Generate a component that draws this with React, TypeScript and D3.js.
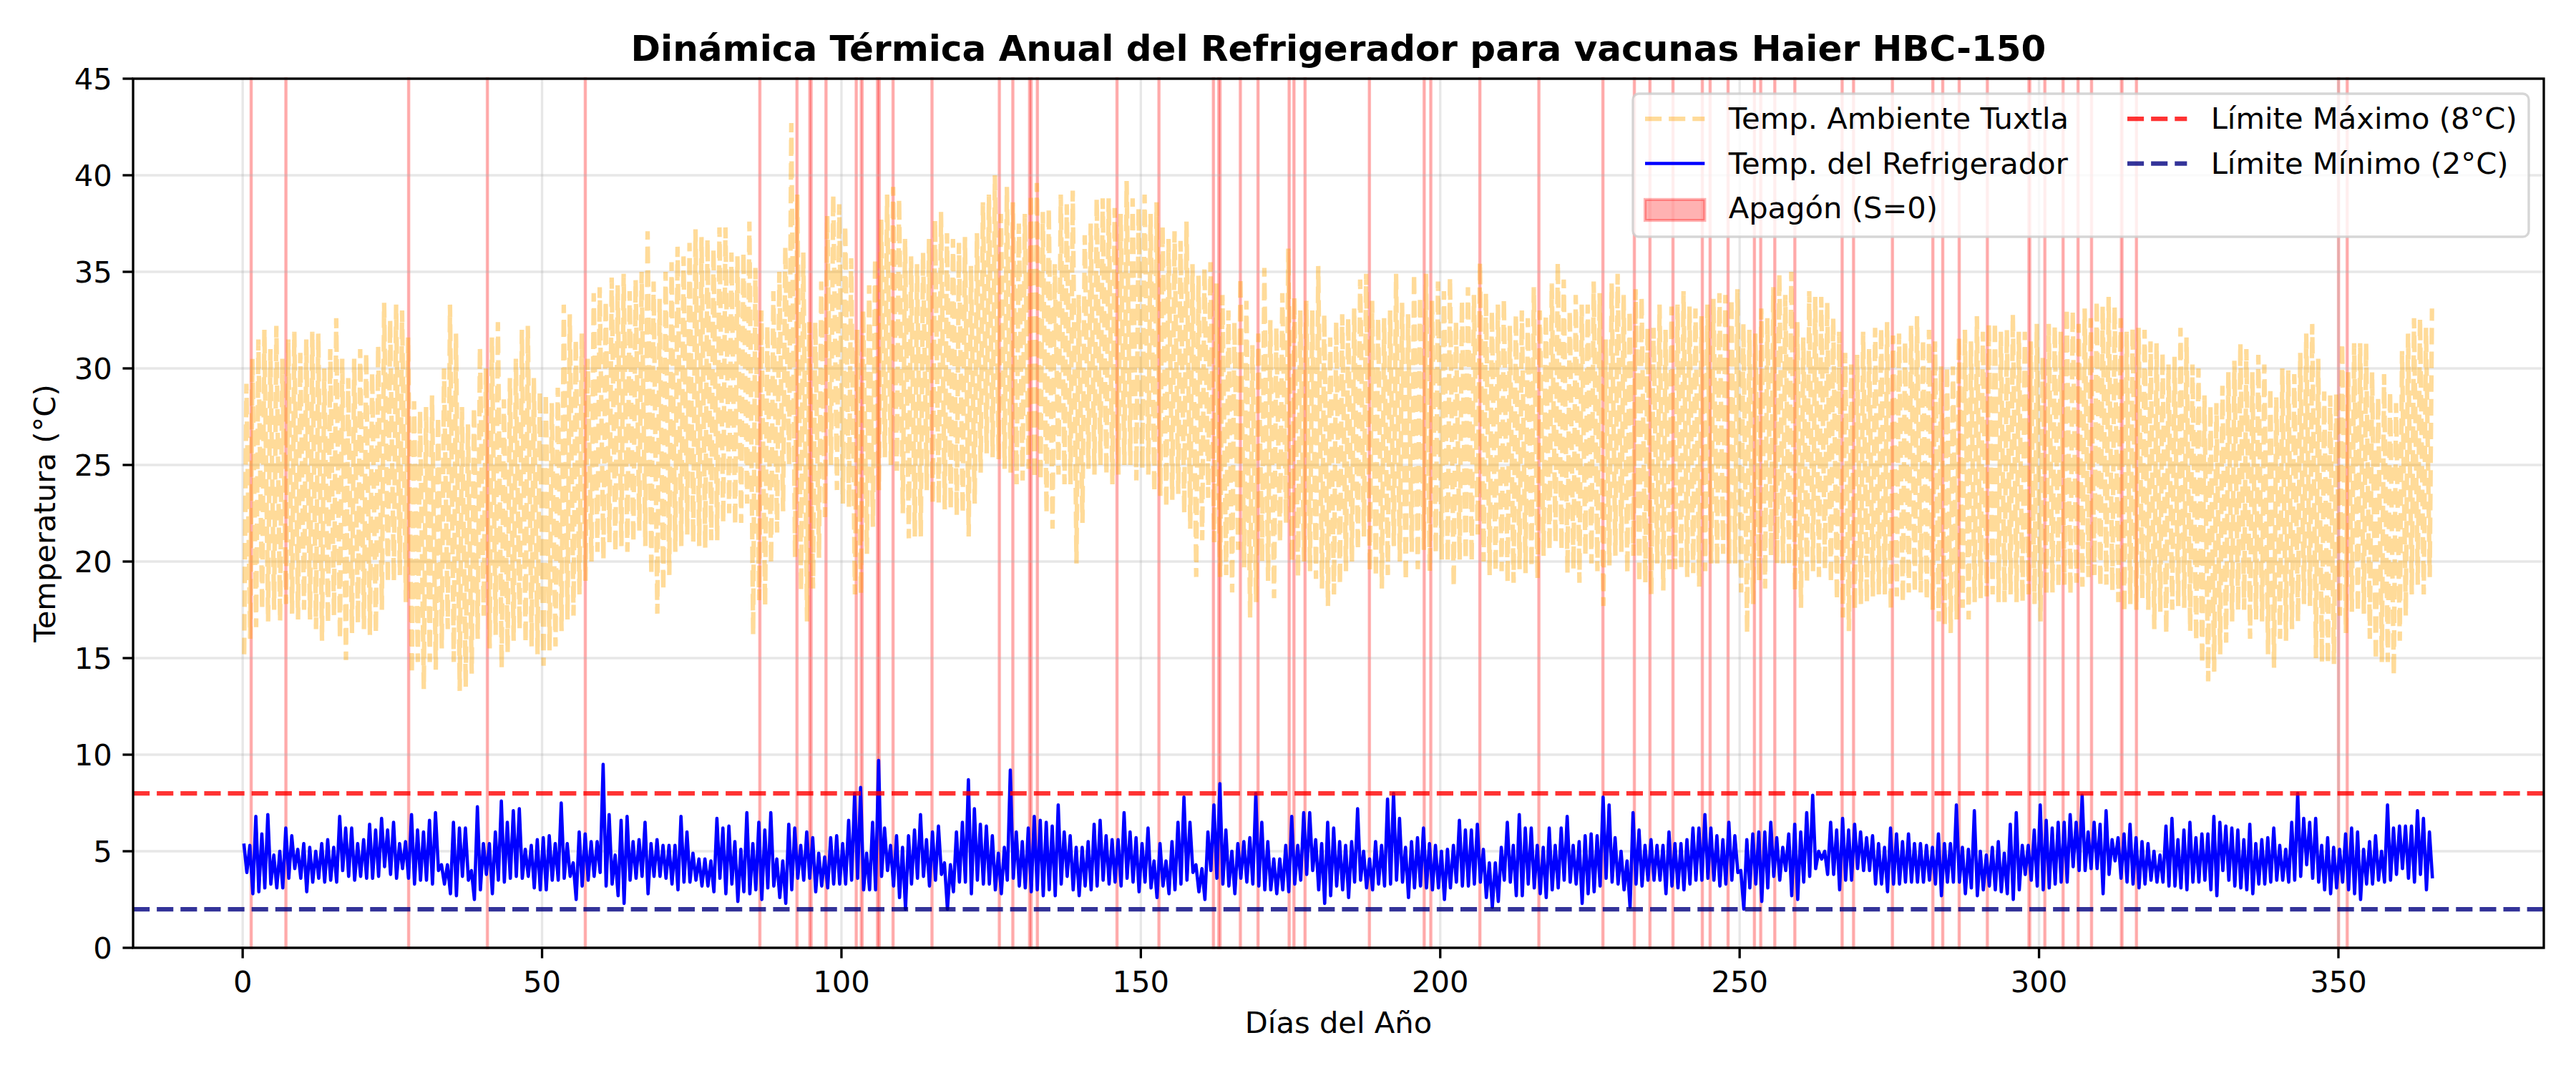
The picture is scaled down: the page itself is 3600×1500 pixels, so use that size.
import * as d3 from "d3";
import React, { useEffect } from "react";

// Daily readings (366 days, °C)
const ambMax = [
  29.2, 30.5, 31.5, 32.0, 31.0, 32.2, 30.5, 31.5, 31.9, 30.8,
  31.5, 31.9, 31.8, 30.0, 31.0, 32.6, 30.5, 29.5, 30.5, 31.0,
  30.8, 29.8, 31.2, 33.4, 32.5, 33.3, 33.0, 31.6, 28.3, 27.8,
  28.0, 28.6, 27.5, 30.0, 33.3, 31.8, 28.0, 27.1, 28.0, 31.1,
  30.0, 31.6, 32.4, 28.4, 29.5, 30.5, 32.0, 32.2, 29.5, 28.8,
  28.7, 28.2, 29.0, 33.3, 32.8, 31.5, 31.8, 30.5, 33.9, 34.2,
  33.5, 34.7, 34.3, 34.9, 34.0, 34.6, 35.0, 37.1, 34.5, 33.6,
  35.0, 35.5, 36.3, 35.8, 36.5, 37.2, 36.8, 36.7, 36.2, 37.3,
  37.3, 36.0, 35.8, 36.0, 37.6, 35.2, 33.0, 32.2, 34.0, 35.0,
  36.3, 42.7, 39.0, 36.0, 32.4, 32.4, 34.5, 37.9, 39.0, 38.5,
  37.4, 35.7, 32.0, 33.0, 34.3, 35.7, 37.7, 39.0, 39.4, 38.8,
  36.7, 35.8, 35.4, 36.0, 36.7, 37.7, 38.1, 37.0, 36.7, 36.5,
  36.8, 35.3, 37.0, 38.6, 39.0, 40.0, 38.0, 39.4, 38.6, 37.5,
  38.0, 39.0, 39.6, 38.1, 38.3, 35.4, 39.0, 38.5, 39.2, 33.8,
  36.9, 37.5, 38.8, 38.8, 38.8, 38.3, 38.0, 39.7, 38.8, 38.3,
  39.0, 38.0, 38.6, 37.4, 36.7, 37.1, 36.6, 37.6, 35.4, 34.8,
  35.2, 35.5, 34.4, 33.8, 33.0, 32.4, 34.7, 33.5, 31.2, 31.8,
  35.2, 32.5, 32.1, 33.9, 36.2, 33.7, 33.0, 33.5, 33.0, 35.3,
  32.8, 31.6, 32.4, 32.8, 32.6, 33.1, 34.6, 34.9, 33.5, 32.6,
  32.6, 33.0, 34.9, 33.4, 32.8, 34.9, 33.7, 34.9, 33.5, 34.5,
  34.0, 34.7, 32.4, 33.5, 34.2, 33.8, 35.5, 33.9, 33.0, 33.3,
  33.6, 32.2, 32.8, 33.0, 32.6, 34.2, 33.0, 32.8, 34.4, 35.5,
  34.6, 33.0, 33.8, 33.3, 33.3, 34.5, 33.9, 31.5, 34.4, 34.9,
  33.8, 33.0, 34.1, 33.7, 32.1, 32.1, 33.3, 32.0, 33.2, 33.3,
  34.0, 33.2, 33.1, 32.7, 33.3, 33.6, 33.9, 33.8, 33.6, 34.1,
  32.3, 32.0, 31.8, 33.1, 32.6, 34.2, 34.9, 33.8, 35.0, 32.4,
  31.6, 34.0, 33.7, 33.7, 33.4, 32.6, 31.9, 30.8, 30.2, 30.7,
  31.9, 31.0, 32.1, 32.1, 32.4, 31.7, 31.8, 31.4, 32.2, 32.7,
  31.5, 32.0, 31.4, 30.1, 30.1, 30.1, 31.6, 32.0, 31.4, 32.7,
  31.9, 32.3, 32.4, 31.9, 32.0, 32.8, 31.9, 31.9, 31.4, 32.3,
  30.6, 32.3, 32.2, 31.9, 33.1, 33.0, 32.3, 33.1, 32.6, 33.5,
  33.2, 33.7, 33.2, 32.6, 31.9, 32.1, 32.1, 32.0, 31.4, 31.3,
  30.8, 30.2, 30.6, 32.1, 31.6, 30.2, 30.0, 28.6, 28.1, 28.2,
  29.1, 29.8, 30.4, 31.3, 31.0, 29.8, 30.7, 30.2, 29.0, 28.5,
  30.0, 29.9, 29.7, 30.8, 31.8, 32.3, 30.5, 28.8, 28.6, 28.7,
  31.3, 29.8, 31.3, 31.3, 31.3, 29.8, 28.5, 29.7, 28.8, 28.2,
  30.9, 31.8, 32.6, 32.6, 32.1, 33.1,
];

const ambMin = [
  15.2, 16.0, 16.6, 17.5, 16.9, 17.5, 16.9, 17.8, 17.3, 17.0,
  17.5, 17.0, 16.5, 15.9, 16.8, 17.2, 16.0, 14.9, 16.3, 16.8,
  16.5, 16.2, 16.3, 17.5, 18.9, 19.0, 19.3, 17.9, 14.2, 14.8,
  13.4, 14.8, 14.4, 15.5, 16.5, 14.8, 13.3, 13.5, 14.2, 16.0,
  17.2, 15.5, 16.2, 14.5, 15.3, 15.9, 16.5, 15.8, 15.6, 15.2,
  14.6, 15.4, 15.6, 16.4, 17.0, 17.2, 18.3, 19.0, 20.0, 20.5,
  20.1, 21.0, 20.5, 20.8, 20.5, 21.0, 21.6, 20.8, 19.3, 17.3,
  18.5, 19.3, 20.5, 20.8, 21.4, 21.0, 20.8, 20.7, 21.1, 21.1,
  22.0, 22.5, 21.9, 22.0, 23.0, 16.2, 18.0, 17.7, 19.9, 21.5,
  22.6, 25.0, 20.2, 18.5, 16.9, 18.6, 20.2, 22.3, 25.0, 23.7,
  23.0, 22.8, 18.3, 18.3, 20.4, 21.8, 23.7, 25.4, 25.0, 24.7,
  22.5, 21.2, 21.3, 21.3, 23.7, 23.0, 23.0, 22.7, 22.7, 22.4,
  22.5, 21.3, 23.0, 24.6, 25.6, 25.4, 25.3, 24.8, 24.6, 24.0,
  24.2, 24.8, 24.3, 24.2, 22.5, 21.7, 24.5, 24.0, 24.0, 19.9,
  22.0, 24.8, 24.5, 25.0, 24.5, 24.0, 24.5, 25.0, 25.0, 24.2,
  24.8, 24.5, 23.6, 23.4, 22.8, 23.2, 23.5, 22.5, 21.7, 19.2,
  21.1, 23.3, 21.0, 19.2, 19.3, 18.4, 20.6, 19.7, 17.1, 17.9,
  20.0, 19.0, 18.1, 21.0, 22.0, 20.0, 19.2, 20.0, 19.5, 19.1,
  18.6, 17.7, 18.3, 18.8, 19.5, 20.0, 20.6, 21.3, 19.5, 19.2,
  18.6, 19.3, 20.8, 20.0, 19.0, 20.5, 19.6, 20.6, 19.5, 20.4,
  20.1, 20.0, 18.7, 20.1, 20.1, 20.0, 21.4, 20.0, 19.3, 19.5,
  19.5, 18.9, 18.9, 19.6, 19.4, 19.7, 19.1, 20.3, 20.6, 21.0,
  20.6, 19.4, 19.6, 18.9, 20.3, 19.9, 19.5, 17.7, 19.8, 20.3,
  20.5, 19.4, 20.3, 18.9, 18.9, 18.3, 19.9, 18.5, 19.6, 19.6,
  19.6, 19.2, 19.4, 18.7, 19.5, 19.9, 19.8, 20.4, 19.9, 19.9,
  18.4, 16.3, 17.8, 19.0, 18.6, 20.3, 19.9, 19.9, 19.8, 18.5,
  17.6, 18.9, 19.5, 19.2, 19.6, 18.9, 18.0, 17.1, 16.4, 17.5,
  17.8, 17.9, 18.2, 18.3, 18.3, 17.5, 18.2, 17.9, 18.4, 18.4,
  18.4, 18.0, 17.5, 16.9, 16.7, 16.3, 17.0, 17.6, 17.0, 17.9,
  18.1, 18.2, 18.3, 17.9, 17.9, 18.3, 17.9, 17.9, 18.3, 17.8,
  16.9, 18.3, 18.4, 18.7, 18.8, 18.3, 18.9, 18.7, 19.2, 19.3,
  18.7, 18.8, 18.5, 17.9, 17.4, 17.8, 17.5, 18.1, 17.5, 16.5,
  17.4, 16.3, 17.5, 17.7, 17.6, 16.4, 15.9, 14.7, 13.8, 14.3,
  15.2, 15.8, 16.9, 17.5, 17.5, 16.0, 17.0, 16.9, 15.2, 14.5,
  16.0, 15.9, 16.5, 16.9, 17.8, 17.7, 15.0, 14.8, 14.7, 14.7,
  17.2, 16.3, 17.4, 17.4, 17.3, 16.0, 14.9, 14.8, 14.8, 14.1,
  15.9, 17.2, 18.3, 18.8, 18.3, 19.2,
];

const fridgeMax = [
  5.4, 5.3, 6.8, 5.9, 6.9, 4.8, 5.0, 6.2, 5.8, 5.1,
  5.4, 5.2, 5.0, 5.4, 5.6, 5.2, 6.8, 6.2, 6.2, 5.4,
  5.6, 6.4, 6.1, 6.7, 6.1, 6.5, 5.4, 5.5, 6.9, 6.1,
  6.0, 6.6, 7.0, 4.3, 4.3, 6.5, 6.2, 6.2, 4.0, 7.3,
  5.4, 5.4, 6.0, 7.6, 6.5, 7.1, 7.2, 5.1, 5.3, 5.6,
  5.7, 5.8, 5.4, 7.5, 5.4, 4.4, 6.0, 5.9, 5.5, 5.5,
  9.5, 6.9, 4.8, 6.6, 6.8, 5.5, 5.6, 6.5, 5.4, 5.6,
  5.3, 5.3, 5.3, 6.8, 6.0, 4.9, 4.6, 4.6, 4.5, 6.7,
  6.2, 6.3, 5.5, 5.1, 7.0, 5.4, 6.5, 6.1, 7.0, 4.6,
  4.5, 6.4, 6.2, 5.3, 6.0, 5.7, 4.9, 4.7, 5.7, 5.8,
  5.4, 6.6, 8.0, 8.3, 4.9, 6.5, 9.7, 6.2, 5.3, 5.8,
  5.2, 5.8, 6.1, 6.9, 5.6, 6.0, 6.3, 4.4, 4.3, 6.0,
  6.5, 8.7, 7.2, 6.4, 6.3, 5.8, 4.9, 5.2, 9.2, 6.0,
  5.5, 6.2, 6.8, 6.6, 6.5, 6.3, 7.4, 6.0, 5.8, 5.2,
  5.2, 5.5, 6.4, 6.6, 5.8, 5.6, 5.6, 7.0, 6.0, 5.7,
  5.4, 6.2, 4.5, 5.4, 4.5, 5.5, 6.5, 7.8, 6.5, 4.3,
  4.1, 6.0, 7.4, 8.5, 6.1, 5.0, 5.4, 5.5, 5.7, 8.0,
  6.5, 5.5, 4.6, 4.6, 5.3, 6.8, 5.3, 7.0, 7.0, 5.6,
  5.4, 6.5, 6.2, 5.5, 5.3, 5.5, 7.2, 5.0, 4.6, 5.5,
  5.3, 7.7, 8.0, 6.7, 5.2, 5.5, 5.7, 6.2, 5.4, 5.3,
  5.0, 5.1, 5.3, 6.6, 6.1, 6.1, 6.4, 5.1, 4.4, 4.4,
  5.2, 6.5, 5.3, 6.9, 6.2, 6.2, 5.3, 5.2, 6.2, 5.3,
  6.2, 6.8, 5.3, 5.5, 5.8, 5.9, 5.8, 7.8, 7.4, 5.7,
  5.0, 4.5, 7.0, 6.1, 5.3, 5.6, 5.3, 5.3, 6.0, 5.4,
  5.4, 5.6, 6.2, 6.2, 6.9, 6.2, 5.8, 5.6, 6.5, 5.8,
  4.0, 5.6, 5.9, 6.0, 6.0, 6.5, 5.7, 5.2, 5.9, 6.4,
  6.0, 7.0, 7.9, 5.0, 5.0, 6.5, 6.1, 6.7, 6.1, 6.4,
  6.0, 5.7, 5.8, 5.4, 5.2, 6.2, 5.9, 5.5, 5.9, 5.4,
  5.4, 5.3, 5.2, 5.9, 5.4, 5.4, 7.4, 5.2, 5.1, 7.1,
  5.0, 4.8, 5.2, 5.5, 4.9, 6.4, 7.0, 5.3, 5.3, 6.1,
  7.4, 6.6, 6.2, 6.5, 6.5, 6.9, 6.5, 7.9, 6.0, 6.5,
  6.4, 7.1, 5.6, 5.7, 5.9, 6.4, 5.7, 5.5, 5.4, 5.0,
  4.8, 6.3, 6.7, 5.6, 6.1, 6.5, 5.7, 5.9, 5.9, 6.8,
  6.5, 6.3, 6.2, 6.1, 5.6, 6.4, 5.4, 5.6, 5.7, 6.2,
  5.3, 5.1, 6.5, 8.0, 6.7, 6.5, 6.7, 5.3, 5.7, 5.2,
  5.1, 5.9, 6.2, 6.0, 5.1, 5.5, 5.8, 5.0, 7.4, 6.2,
  6.3, 6.3, 6.3, 7.1, 6.7, 6.0,
];

const fridgeMin = [
  3.9, 2.8, 2.9, 3.1, 3.3, 3.1, 3.1, 3.6, 4.1, 3.6,
  2.9, 3.4, 3.6, 3.4, 3.5, 3.4, 4.0, 3.7, 3.5, 3.7,
  3.6, 3.6, 3.7, 4.2, 3.8, 3.6, 4.1, 3.6, 3.3, 3.5,
  3.5, 3.3, 4.0, 3.3, 2.8, 2.7, 3.7, 3.5, 2.5, 3.0,
  3.8, 2.8, 3.5, 3.4, 3.6, 3.7, 3.6, 3.7, 3.1, 3.0,
  3.0, 3.5, 3.5, 3.6, 3.7, 2.5, 3.2, 3.5, 3.7, 3.9,
  3.2, 3.3, 2.7, 2.3, 3.5, 3.6, 3.7, 2.8, 3.7, 3.7,
  3.6, 3.3, 3.0, 3.4, 3.4, 3.5, 3.2, 3.2, 2.9, 3.6,
  2.8, 3.3, 2.4, 2.9, 2.8, 3.0, 2.5, 3.1, 3.2, 2.6,
  2.3, 3.0, 3.6, 3.5, 3.6, 2.9, 3.2, 3.1, 3.3, 3.3,
  3.3, 3.5, 3.6, 3.0, 3.0, 3.0, 3.7, 4.0, 3.2, 2.6,
  2.0, 3.3, 3.6, 3.7, 3.2, 3.5, 3.8, 2.0, 2.9, 3.4,
  3.4, 2.8, 3.5, 3.3, 3.3, 3.0, 2.8, 3.5, 3.6, 3.2,
  3.1, 2.9, 3.0, 2.7, 3.0, 2.7, 3.3, 3.7, 3.0, 2.7,
  3.2, 3.0, 3.2, 3.5, 3.3, 3.4, 3.2, 3.6, 3.4, 2.9,
  3.4, 3.1, 2.6, 3.2, 2.8, 3.0, 3.3, 3.5, 3.9, 2.9,
  2.5, 4.0, 3.6, 3.3, 3.2, 2.8, 3.6, 3.4, 3.3, 3.2,
  3.0, 3.0, 2.8, 3.0, 2.9, 3.3, 3.5, 3.8, 4.0, 3.0,
  2.3, 2.7, 3.2, 3.0, 2.6, 3.4, 3.5, 3.1, 3.0, 3.3,
  3.2, 3.3, 3.5, 3.4, 2.6, 3.1, 3.2, 3.1, 3.0, 3.1,
  2.5, 3.1, 3.4, 3.2, 3.2, 3.3, 3.4, 2.6, 2.1, 2.4,
  3.5, 3.4, 2.7, 2.7, 3.3, 3.1, 2.8, 2.6, 3.0, 3.1,
  3.5, 3.4, 3.3, 2.3, 2.8, 2.9, 3.2, 3.6, 3.4, 3.3,
  3.0, 2.1, 3.3, 3.2, 3.5, 3.5, 3.5, 2.8, 3.2, 3.1,
  3.0, 3.3, 3.5, 3.5, 3.6, 3.5, 3.2, 3.3, 3.5, 3.9,
  2.0, 3.1, 3.3, 2.4, 3.1, 3.7, 3.5, 4.0, 2.7, 2.5,
  3.4, 3.7, 4.1, 4.6, 3.8, 3.8, 3.0, 3.5, 3.5, 4.1,
  4.0, 4.0, 3.3, 3.3, 2.9, 3.3, 3.3, 3.4, 3.4, 3.4,
  3.4, 3.5, 3.3, 2.7, 3.4, 3.4, 3.4, 2.8, 3.1, 2.7,
  3.0, 3.2, 3.0, 2.9, 2.8, 2.5, 3.0, 3.8, 3.5, 3.2,
  3.0, 3.1, 3.3, 3.4, 3.4, 4.2, 4.0, 4.0, 4.1, 4.1,
  2.8, 3.8, 4.5, 3.6, 3.4, 3.3, 3.1, 3.3, 3.5, 3.4,
  3.4, 3.2, 3.2, 3.1, 3.0, 3.4, 3.4, 3.5, 3.0, 2.7,
  4.0, 3.5, 3.2, 3.1, 3.0, 2.8, 3.3, 3.3, 3.4, 3.5,
  3.5, 3.4, 3.5, 3.7, 4.3, 3.6, 3.4, 3.0, 2.8, 3.1,
  3.4, 3.0, 2.8, 2.5, 3.3, 3.3, 3.5, 3.4, 3.5, 3.8,
  4.1, 3.6, 3.4, 3.8, 3.0, 3.6,
];

// Power cuts: start day and duration in hours
const blackoutStart = [
  1.4, 7.2, 27.7, 40.85, 57.2, 86.35, 92.55, 94.7, 97.4, 102.45,
  103.3, 106.0, 108.6, 115.1, 126.35, 128.6, 131.4, 132.7, 146.0, 153.0,
  162.1, 163.0, 166.6, 169.55, 174.75, 175.55, 177.4, 188.15, 197.3, 198.4,
  206.6, 216.45, 227.15, 232.4, 235.0, 238.85, 243.75, 245.05, 248.05, 252.45,
  253.5, 255.85, 259.2, 267.1, 269.0, 275.5, 282.25, 283.9, 286.65, 291.35,
  298.3, 300.95, 304.0, 306.5, 308.75, 313.75, 316.25, 350.0, 351.45,
];
const blackoutHours = [
  1, 1, 1, 1, 1, 1, 1, 6, 1, 1,
  4, 8, 1, 1, 1, 1, 7, 1, 1, 1,
  1, 6, 1, 1, 1, 1, 1, 1, 1, 1,
  1, 1, 1, 1, 1, 1, 1, 1, 1, 1,
  1, 1, 1, 1, 1, 1, 1, 1, 1, 1,
  4, 1, 1, 1, 1, 3, 1, 1, 1,
];

const xTicks = [0, 50, 100, 150, 200, 250, 300, 350];
const yTicks = [0, 5, 10, 15, 20, 25, 30, 35, 40, 45];
const LIMIT_MAX = 8;
const LIMIT_MIN = 2;

const W = 3600;
const H = 1500;
const PT = 300 / 72;
const FONT = "DejaVu Sans";
const FS = 10 * PT;

const plot = { left: 186, right: 3555, top: 110, bottom: 1325 };

const DAYS = ambMax.length;

const App: React.FC = () => {
  useEffect(() => {
    document.body.style.margin = "0";
  }, []);

  const x = d3
    .scaleLinear()
    .domain([-0.05 * DAYS, DAYS * 1.05])
    .range([plot.left, plot.right]);
  const y = d3.scaleLinear().domain([0, 45]).range([plot.bottom, plot.top]);

  const line = d3
    .line<[number, number]>()
    .x((p) => x(p[0]))
    .y((p) => y(p[1]));

  const days = d3.range(DAYS);
  // min around sunrise, max mid-afternoon
  const ambPts = days.flatMap(
    (d) =>
      [
        [d + 0.25, ambMin[d]],
        [d + 0.625, ambMax[d]],
      ] as [number, number][]
  );
  const fridgePts = days.flatMap(
    (d) =>
      [
        [d + 0.2, fridgeMax[d]],
        [d + 0.7, fridgeMin[d]],
      ] as [number, number][]
  );

  const tickLen = 3.5 * PT;
  const axisW = 0.8 * PT;
  const dash = `${3.7 * 1.5 * PT},${1.6 * 1.5 * PT}`;

  // legend geometry
  const lg = { left: 2282, top: 131, right: 3534, bottom: 331 };
  const col1 = 2299;
  const col2 = 2973;
  const hl = 2 * FS;
  const textGap = 0.8 * FS;
  const rowsY = [166, 228.5, 293.5];
  const baseY = [180, 242.5, 305];

  return (
    <svg
      width={W}
      height={H}
      viewBox={`0 0 ${W} ${H}`}
      style={{ display: "block", background: "#fff" }}
      fontFamily={FONT}
    >
      <rect x={0} y={0} width={W} height={H} fill="#fff" />

      {/* blackout spans */}
      <g>
        {blackoutStart.map((s, i) => {
          const x0 = x(s);
          const x1 = x(s + blackoutHours[i] / 24);
          return (
            <rect
              key={i}
              x={x0}
              y={plot.top}
              width={Math.max(x1 - x0, 0.3)}
              height={plot.bottom - plot.top}
              fill="red"
              fillOpacity={0.3}
              stroke="red"
              strokeOpacity={0.3}
              strokeWidth={PT}
            />
          );
        })}
      </g>

      {/* grid */}
      <g stroke="#b0b0b0" strokeOpacity={0.3} strokeWidth={0.8 * PT}>
        {xTicks.map((t) => (
          <line key={t} x1={x(t)} x2={x(t)} y1={plot.top} y2={plot.bottom} />
        ))}
        {yTicks.map((t) => (
          <line key={t} x1={plot.left} x2={plot.right} y1={y(t)} y2={y(t)} />
        ))}
      </g>

      {/* ambient */}
      <path
        d={line(ambPts) ?? ""}
        fill="none"
        stroke="orange"
        strokeOpacity={0.4}
        strokeWidth={1.5 * PT}
        strokeDasharray={dash}
      />

      {/* fridge */}
      <path
        d={line(fridgePts) ?? ""}
        fill="none"
        stroke="blue"
        strokeWidth={1.1 * PT}
        strokeLinejoin="round"
      />

      {/* limits */}
      <line
        x1={plot.left}
        x2={plot.right}
        y1={y(LIMIT_MAX)}
        y2={y(LIMIT_MAX)}
        stroke="red"
        strokeOpacity={0.8}
        strokeWidth={1.5 * PT}
        strokeDasharray={dash}
      />
      <line
        x1={plot.left}
        x2={plot.right}
        y1={y(LIMIT_MIN)}
        y2={y(LIMIT_MIN)}
        stroke="navy"
        strokeOpacity={0.8}
        strokeWidth={1.5 * PT}
        strokeDasharray={dash}
      />

      {/* spines */}
      <rect
        x={plot.left}
        y={plot.top}
        width={plot.right - plot.left}
        height={plot.bottom - plot.top}
        fill="none"
        stroke="#000"
        strokeWidth={axisW}
      />

      {/* x axis */}
      <g>
        {xTicks.map((t) => (
          <g key={t}>
            <line
              x1={x(t)}
              x2={x(t)}
              y1={plot.bottom}
              y2={plot.bottom + tickLen}
              stroke="#000"
              strokeWidth={axisW}
            />
            <text x={x(t)} y={1387} textAnchor="middle" fontSize={FS}>
              {t}
            </text>
          </g>
        ))}
      </g>

      {/* y axis */}
      <g>
        {yTicks.map((t) => (
          <g key={t}>
            <line
              x1={plot.left - tickLen}
              x2={plot.left}
              y1={y(t)}
              y2={y(t)}
              stroke="#000"
              strokeWidth={axisW}
            />
            <text
              x={plot.left - tickLen - 3.5 * PT}
              y={y(t) + 15}
              textAnchor="end"
              fontSize={FS}
            >
              {t}
            </text>
          </g>
        ))}
      </g>

      {/* labels */}
      <text
        x={(plot.left + plot.right) / 2}
        y={85}
        textAnchor="middle"
        fontSize={12 * PT}
        fontWeight="bold"
      >
        Dinámica Térmica Anual del Refrigerador para vacunas Haier HBC-150
      </text>
      <text
        x={(plot.left + plot.right) / 2}
        y={1444}
        textAnchor="middle"
        fontSize={FS}
      >
        Días del Año
      </text>
      <text
        transform={`translate(77,${(plot.top + plot.bottom) / 2}) rotate(-90)`}
        textAnchor="middle"
        fontSize={FS}
      >
        Temperatura (°C)
      </text>

      {/* legend */}
      <g>
        <rect
          x={lg.left}
          y={lg.top}
          width={lg.right - lg.left}
          height={lg.bottom - lg.top}
          rx={0.2 * FS}
          fill="#fff"
          fillOpacity={0.8}
          stroke="#cccccc"
          strokeOpacity={0.8}
          strokeWidth={axisW}
        />
        <line
          x1={col1}
          x2={col1 + hl}
          y1={rowsY[0]}
          y2={rowsY[0]}
          stroke="orange"
          strokeOpacity={0.4}
          strokeWidth={1.5 * PT}
          strokeDasharray={dash}
        />
        <text x={col1 + hl + textGap} y={baseY[0]} fontSize={FS}>
          Temp. Ambiente Tuxtla
        </text>
        <line
          x1={col1}
          x2={col1 + hl}
          y1={rowsY[1]}
          y2={rowsY[1]}
          stroke="blue"
          strokeWidth={1.1 * PT}
        />
        <text x={col1 + hl + textGap} y={baseY[1]} fontSize={FS}>
          Temp. del Refrigerador
        </text>
        <rect
          x={col1}
          y={rowsY[2] - 0.35 * FS}
          width={hl}
          height={0.7 * FS}
          fill="red"
          fillOpacity={0.3}
          stroke="red"
          strokeOpacity={0.3}
          strokeWidth={PT}
        />
        <text x={col1 + hl + textGap} y={baseY[2]} fontSize={FS}>
          Apagón (S=0)
        </text>
        <line
          x1={col2}
          x2={col2 + hl}
          y1={rowsY[0]}
          y2={rowsY[0]}
          stroke="red"
          strokeOpacity={0.8}
          strokeWidth={1.5 * PT}
          strokeDasharray={dash}
        />
        <text x={col2 + hl + textGap} y={baseY[0]} fontSize={FS}>
          Límite Máximo (8°C)
        </text>
        <line
          x1={col2}
          x2={col2 + hl}
          y1={rowsY[1]}
          y2={rowsY[1]}
          stroke="navy"
          strokeOpacity={0.8}
          strokeWidth={1.5 * PT}
          strokeDasharray={dash}
        />
        <text x={col2 + hl + textGap} y={baseY[1]} fontSize={FS}>
          Límite Mínimo (2°C)
        </text>
      </g>
    </svg>
  );
};

export default App;
